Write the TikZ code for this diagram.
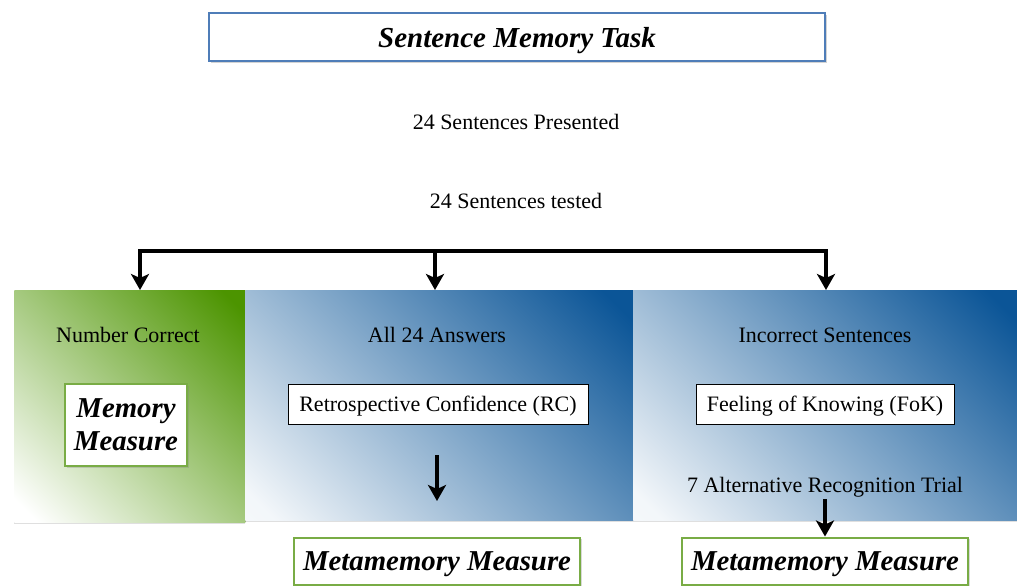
\documentclass[tikz,border=0pt]{standalone}
\usepackage{fontspec}
\setmainfont{Liberation Serif}
\usetikzlibrary{arrows.meta,shadows}
\definecolor{panelgreen}{HTML}{4C9400}
\definecolor{panelblue}{HTML}{0B5597}
\definecolor{titleblue}{HTML}{4F7DB8}
\definecolor{boxgreen}{HTML}{79AC45}
% diagonal fades running over the whole panel, pale at one end and deep at the other
\pgfdeclarehorizontalshading{greenfade}{100bp}{color(0bp)=(white); color(18bp)=(white); color(82bp)=(panelgreen); color(100bp)=(panelgreen)}
\pgfdeclarehorizontalshading{bluefade}{100bp}{color(0bp)=(white); color(18bp)=(white!95!panelblue); color(82bp)=(panelblue); color(100bp)=(panelblue)}
\tikzset{
  plain/.style={font=\fontsize{11}{12}\selectfont, inner sep=0pt},
  headbox/.style={draw=titleblue, line width=0.8pt, fill=white, inner sep=0pt,
    text depth=0pt,
    font=\fontsize{14.5}{16}\selectfont\bfseries\itshape,
    drop shadow={shadow xshift=1pt, shadow yshift=-1.2pt, opacity=0.35}},
  measure/.style={draw=boxgreen, line width=1pt, fill=white, inner sep=0pt,
    font=\fontsize{14.4}{16.5}\selectfont\bfseries\itshape, align=center,
    drop shadow={shadow xshift=0.8pt, shadow yshift=-0.8pt, opacity=0.3}},
  ratingbox/.style={draw=black, line width=0.5pt, fill=white, inner sep=0pt,
    text depth=0pt, font=\fontsize{11}{12}\selectfont},
  panel/.style={inner sep=0pt, anchor=north west,
    shading=#1, shading angle=45,
    drop shadow={shadow xshift=0pt, shadow yshift=-1pt, opacity=0.25}},
  flow/.style={line width=1.8pt, -{Stealth[length=8pt, width=9pt, inset=2pt]}},
}
\begin{document}
\begin{tikzpicture}[x=0.5pt, y=-0.5pt]
\useasboundingbox (0,0) rectangle (1017,586);

% title and the two counts
\node[headbox, minimum width=308pt, minimum height=24pt] (title) at (517,37) {Sentence Memory Task};
\node[plain] (presented) at (516,122) {24 Sentences Presented};
\node[plain] (tested) at (516,201) {24 Sentences tested};

% the three shaded panels
\node[panel=greenfade, minimum width=115.5pt, minimum height=116pt] (pgreen) at (14,290) {};
\node[panel=bluefade, minimum width=194pt, minimum height=115pt] (pall) at (245,290) {};
\node[panel=bluefade, minimum width=192pt, minimum height=115pt] (pinc) at (633,290) {};

% branching connector from the tested sentences to each panel
\coordinate (split) at (435,251);
\coordinate (tgreen) at (140,290);
\coordinate (tall) at (435,290);
\coordinate (tinc) at (826,290);
\draw[flow] (split) -| (tgreen);
\draw[flow] (split) -- (tall);
\draw[flow] (split) -| (tinc);

% panel contents
\node[plain] (numcorrect) at (128,335) {Number Correct};
\node[measure, minimum width=61pt, minimum height=41pt] (memory) at (126,425) {Memory\\Measure};

\node[plain] (allans) at (437,335) {All 24 Answers};
\node[ratingbox, minimum width=150pt, minimum height=20pt] (rc) at (438,404) {Retrospective Confidence (RC)};

\node[plain] (incorrect) at (825,335) {Incorrect Sentences};
\node[ratingbox, minimum width=129pt, minimum height=20pt] (fok) at (825,404) {Feeling of Knowing (FoK)};
\node[plain] (trial) at (825,487) {7 Alternative Recognition Trial};

% metamemory measures below the panels
\node[measure, text depth=0pt, minimum width=143pt, minimum height=23.5pt] (meta1) at (437,561) {Metamemory Measure};
\node[measure, text depth=0pt, minimum width=143pt, minimum height=23.5pt] (meta2) at (825,561) {Metamemory Measure};

\coordinate (rcdown) at (437,455);
\coordinate (rcend) at (437,501);
\draw[flow] (rcdown) -- (rcend);
\coordinate (trialdown) at (825,499);
\draw[flow] (trialdown) -- (meta2.north);
\end{tikzpicture}
\end{document}
